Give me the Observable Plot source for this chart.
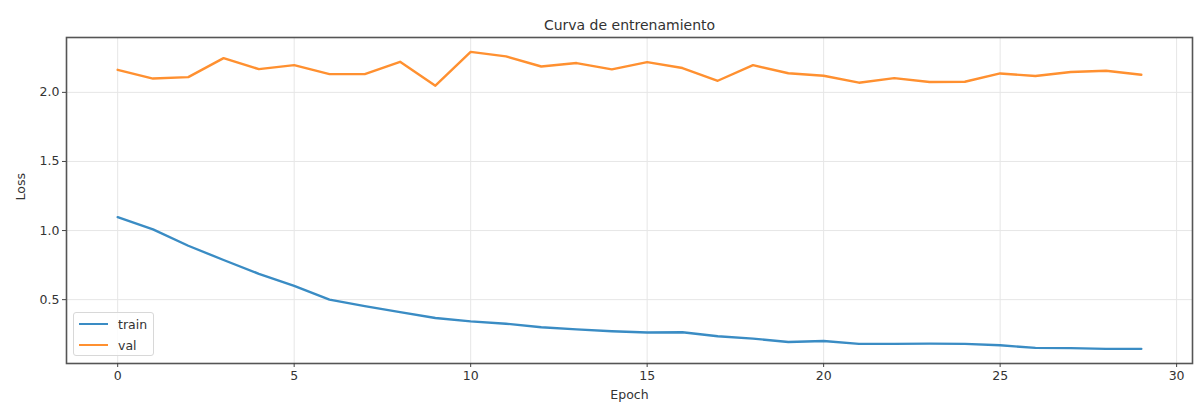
<!DOCTYPE html>
<html>
<head>
<meta charset="utf-8">
<script src="https://cdn.jsdelivr.net/npm/d3@7"></script>
<script src="https://cdn.jsdelivr.net/npm/@observablehq/plot@0.6"></script>
<style>
  body { margin: 0; background: #fff; }
  #wrap { position: relative; width: 1194px; height: 407px; font-family: "DejaVu Sans", sans-serif; }
  #legend { position: absolute; left: 73px; top: 312px; width: 81px; height: 44px; border: 1px solid #d8d8d8; border-radius: 3px; background: rgba(255,255,255,0.85); box-sizing: border-box; }
  .entry { position: absolute; left: 5px; height: 16px; display: flex; align-items: center; font-size: 12.5px; color: #333; }
  .sw { width: 29px; height: 0; border-top: 2.4px solid; margin-right: 10px; }
</style>
</head>
<body>
<div id="wrap"></div>
<script>
const epochs = [0,1,2,3,4,5,6,7,8,9,10,11,12,13,14,15,16,17,18,19,20,21,22,23,24,25,26,27,28,29];
const train = [1.097,1.009,0.890,0.787,0.687,0.600,0.500,0.453,0.410,0.367,0.343,0.326,0.300,0.285,0.271,0.262,0.264,0.235,0.218,0.194,0.201,0.180,0.180,0.182,0.180,0.170,0.151,0.149,0.144,0.144];
const val = [2.163,2.100,2.110,2.248,2.168,2.197,2.132,2.132,2.221,2.048,2.293,2.260,2.187,2.212,2.166,2.219,2.176,2.084,2.197,2.138,2.120,2.070,2.103,2.075,2.077,2.137,2.118,2.147,2.156,2.127];
const seriesNames = ["train", "val"];
const seriesColors = ["#3a8cc4", "#ff9030"];
const xTicks = [0,5,10,15,20,25,30];
const yTicks = [0.5,1.0,1.5,2.0];
const title = "Curva de entrenamiento";
const xLabel = "Epoch";
const yLabel = "Loss";

const rows = [];
epochs.forEach((e, i) => {
  rows.push({epoch: e, loss: train[i], series: seriesNames[0]});
  rows.push({epoch: e, loss: val[i], series: seriesNames[1]});
});

const chart = Plot.plot({
  width: 1194,
  height: 407,
  marginLeft: 66,
  marginRight: 2,
  marginTop: 37,
  marginBottom: 44,
  style: { fontFamily: "DejaVu Sans, sans-serif", fontSize: "12.5px", color: "#333", background: "#fff" },
  x: { domain: [-1.45, 30.45] },
  y: { domain: [0.038, 2.397] },
  color: { domain: seriesNames, range: seriesColors },
  marks: [
    Plot.gridX(xTicks, { stroke: "#e6e6e6", strokeOpacity: 1 }),
    Plot.gridY(yTicks, { stroke: "#e6e6e6", strokeOpacity: 1 }),
    Plot.line(rows, { x: "epoch", y: "loss", stroke: "series", z: "series", strokeWidth: 2.4 }),
    Plot.frame({ stroke: "#555", strokeWidth: 1.6 }),
    Plot.axisX(xTicks, { tickSize: 4, tickPadding: 4, label: null, fill: "#333", stroke: "#444", fontSize: 12.5 }),
    Plot.axisY(yTicks, { tickSize: 4, tickPadding: 3, tickFormat: d3.format(".1f"), label: null, fill: "#333", stroke: "#444", fontSize: 12.5 }),
    Plot.text([xLabel], { frameAnchor: "bottom", dy: 35, text: d => d, fontSize: 12.5, fill: "#333" }),
    Plot.text([yLabel], { frameAnchor: "left", dx: -46, rotate: -90, text: d => d, fontSize: 12.5, fill: "#333" }),
    Plot.text([title], { frameAnchor: "top", dy: -17, text: d => d, fontSize: 14, fill: "#333" })
  ]
});

const wrap = document.getElementById("wrap");
wrap.appendChild(chart);

const legend = document.createElement("div");
legend.id = "legend";
seriesNames.forEach((name, i) => {
  const en = document.createElement("div");
  en.className = "entry";
  en.style.top = (3 + i * 21) + "px";
  const sw = document.createElement("span");
  sw.className = "sw";
  sw.style.borderTopColor = seriesColors[i];
  const tx = document.createElement("span");
  tx.textContent = name;
  en.appendChild(sw);
  en.appendChild(tx);
  legend.appendChild(en);
});
wrap.appendChild(legend);
</script>
</body>
</html>
